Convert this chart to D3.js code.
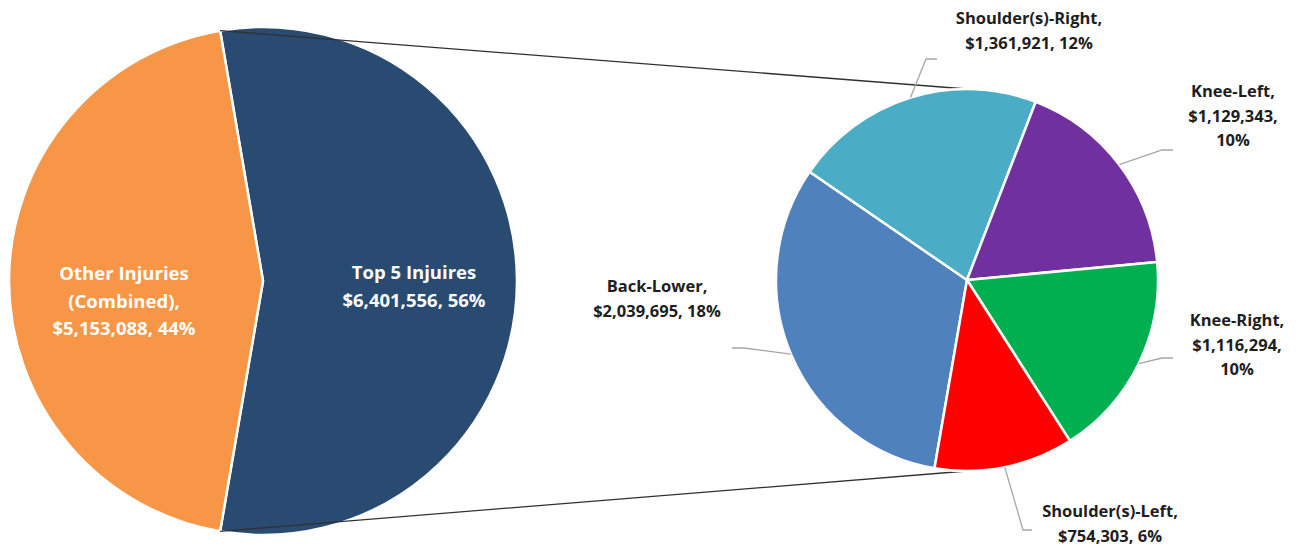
<!DOCTYPE html>
<html>
<head>
<meta charset="utf-8">
<script src="https://cdn.jsdelivr.net/npm/d3@7/dist/d3.min.js"></script>
<style>
  html, body { margin: 0; padding: 0; background: #ffffff; }
  #chart { width: 1303px; height: 547px; }
</style>
</head>
<body>
<div id="chart"></div>
<script>
// Pie of pie: injury cost split, with the top five injuries broken out on the right

const totalNames = ["Other Injuries (Combined)", "Top 5 Injuires"];
const totalValues = [5153088, 6401556];
const totalPercents = [44, 56];

const topNames = ["Back-Lower", "Shoulder(s)-Right", "Knee-Left", "Knee-Right", "Shoulder(s)-Left"];
const topValues = [2039695, 1361921, 1129343, 1116294, 754303];
const topPercents = [18, 12, 10, 10, 6];

function drawPieOfPie() {
  const width = 1303;
  const height = 547;
  const font = '"Open Sans", "Noto Sans", sans-serif';
  const money = d3.format(",");
  const deg = Math.PI / 180;

  const svg = d3.select("#chart")
    .append("svg")
    .attr("width", width)
    .attr("height", height)
    .attr("viewBox", [0, 0, width, height]);

  // ---- left (main) pie ----
  const mainCx = 263, mainCy = 281, mainR = 254;
  const mainColors = ["#F79646", "#294B71"];
  const topFrac = totalValues[1] / d3.sum(totalValues);
  // the "Top 5" slice faces the secondary pie, centred on 3 o'clock
  const mainStart = Math.PI / 2 - topFrac * Math.PI;

  const mainPie = d3.pie().sort(null)
    .startAngle(mainStart)
    .endAngle(mainStart + 2 * Math.PI);
  const mainArcs = mainPie([totalValues[1], totalValues[0]]);
  const mainIdx = [1, 0];
  const mainArc = d3.arc().innerRadius(0).outerRadius(mainR);

  const gMain = svg.append("g")
    .attr("transform", "translate(" + mainCx + "," + mainCy + ")");

  gMain.selectAll("path")
    .data(mainArcs)
    .join("path")
    .attr("d", mainArc)
    .attr("fill", function(d, i) { return mainColors[mainIdx[i]]; })
    .attr("stroke", "#ffffff")
    .attr("stroke-width", 2.5)
    .attr("stroke-linejoin", "round");

  // ---- right (secondary) pie ----
  const subCx = 967, subCy = 280, subR = 191;
  const subColors = ["#4F81BD", "#4BACC6", "#7030A0", "#00B050", "#FF0000"];
  const subStart = 189.8 * deg;

  const subPie = d3.pie().sort(null)
    .startAngle(subStart)
    .endAngle(subStart + 2 * Math.PI);
  const subArcs = subPie(topValues);
  const subArc = d3.arc().innerRadius(0).outerRadius(subR);

  // connector lines from the split edges of the main slice to the top/bottom of the sub pie
  const topEdge = mainArcs[0].startAngle;
  const botEdge = mainArcs[0].endAngle;
  const connectors = [
    [mainCx + mainR * Math.sin(topEdge), mainCy - mainR * Math.cos(topEdge), subCx, subCy - subR],
    [mainCx + mainR * Math.sin(botEdge), mainCy - mainR * Math.cos(botEdge), subCx, subCy + subR]
  ];
  svg.append("g")
    .selectAll("line")
    .data(connectors)
    .join("line")
    .attr("x1", function(d) { return d[0]; })
    .attr("y1", function(d) { return d[1]; })
    .attr("x2", function(d) { return d[2]; })
    .attr("y2", function(d) { return d[3]; })
    .attr("stroke", "#303030")
    .attr("stroke-width", 1.3);

  const gSub = svg.append("g")
    .attr("transform", "translate(" + subCx + "," + subCy + ")");

  gSub.selectAll("path")
    .data(subArcs)
    .join("path")
    .attr("d", subArc)
    .attr("fill", function(d, i) { return subColors[i]; })
    .attr("stroke", "#ffffff")
    .attr("stroke-width", 2.5)
    .attr("stroke-linejoin", "round");

  // ---- main pie labels (white, inside) ----
  const mainLabelPos = [
    { x: 124, y: 280, lh: 27.5 },
    { x: 414, y: 279, lh: 28 }
  ];
  const mainLines = [
    ["Other Injuries", "(Combined),", "$" + money(totalValues[0]) + ", " + totalPercents[0] + "%"],
    [totalNames[1], "$" + money(totalValues[1]) + ", " + totalPercents[1] + "%"]
  ];

  mainLines.forEach(function(lines, i) {
    const p = mainLabelPos[i];
    const t = svg.append("text")
      .attr("text-anchor", "middle")
      .attr("fill", "#ffffff")
      .attr("font-family", font)
      .attr("font-size", 18.5)
      .attr("font-weight", 700);
    lines.forEach(function(line, j) {
      t.append("tspan")
        .attr("x", p.x)
        .attr("y", p.y + j * p.lh)
        .text(line);
    });
  });

  // ---- sub pie labels with leader lines ----
  // rows: 2 = "name," / "$value, pct%"   3 = "name," / "$value," / "pct%"
  const subLabelPos = [
    { x: 657, y: 292, rows: 2, elbow: [744, 348], end: 732 },
    { x: 1029, y: 24, rows: 2, elbow: [926, 59], end: 937 },
    { x: 1233, y: 97, rows: 3, elbow: [1162, 150], end: 1173 },
    { x: 1237, y: 326, rows: 3, elbow: [1162, 358], end: 1173 },
    { x: 1110, y: 517, rows: 2, elbow: [1023, 530], end: 1032 }
  ];

  subArcs.forEach(function(a, i) {
    const p = subLabelPos[i];
    const mid = (a.startAngle + a.endAngle) / 2;
    const sx = subCx + subR * Math.sin(mid);
    const sy = subCy - subR * Math.cos(mid);

    svg.append("path")
      .attr("d", d3.line()([[sx, sy], p.elbow, [p.end, p.elbow[1]]]))
      .attr("fill", "none")
      .attr("stroke", "#a6a6a6")
      .attr("stroke-width", 1.3);

    const valueText = "$" + money(topValues[i]) + ",";
    const pctText = topPercents[i] + "%";
    const lines = p.rows === 3
      ? [topNames[i] + ",", valueText, pctText]
      : [topNames[i] + ",", valueText + " " + pctText];

    const t = svg.append("text")
      .attr("text-anchor", "middle")
      .attr("fill", "#1e1e1e")
      .attr("font-family", font)
      .attr("font-size", 16.5)
      .attr("font-weight", 700);
    lines.forEach(function(line, j) {
      t.append("tspan")
        .attr("x", p.x)
        .attr("y", p.y + j * 24.5)
        .text(line);
    });
  });
}

if (document.readyState === "loading") {
  document.addEventListener("DOMContentLoaded", drawPieOfPie);
} else {
  drawPieOfPie();
}
</script>
</body>
</html>
